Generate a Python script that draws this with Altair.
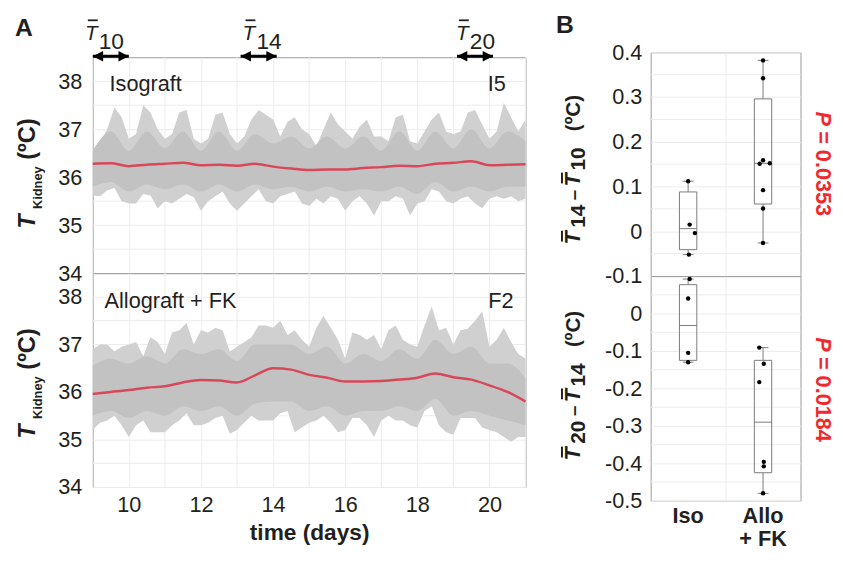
import altair as alt
import pandas as pd

FONT = "Liberation Sans"
INK = "#231f20"
RED_LINE = "#d8485b"
RED_TXT = "#ef2a2f"
GRID = "#ececec"

# ---------------- Panel A data ----------------
days_fine = [round(9 + 0.2 * i, 1) for i in range(61)]
days_half = [round(9 + 0.5 * i, 1) for i in range(25)]

iso_upper = [36.55, 36.7, 37.0, 37.45, 37.25, 36.8, 36.9, 37.5, 37.35, 37.0, 36.8, 36.9, 37.35, 37.4,
             36.8, 36.7, 36.8, 37.3, 37.35, 36.9, 36.7, 36.85, 37.2, 37.4, 37.3, 37.2, 36.85, 37.15,
             37.25, 37.0, 36.9,
             36.65, 37.0, 37.35, 37.1, 36.95, 36.8, 37.05, 37.2, 36.85, 36.85, 36.75, 37.25, 37.3,
             36.75, 36.7, 36.95, 37.2, 37.35, 36.95, 36.9, 36.95, 37.35, 37.4, 37.1, 36.8, 36.95,
             37.55, 37.25, 36.95, 37.2]
iso_lower = [35.62, 35.6, 35.72, 35.78, 35.5, 35.45, 35.45, 35.65, 35.62, 35.35, 35.5, 35.45, 35.55,
             35.65, 35.58, 35.3, 35.5, 35.6, 35.7, 35.45, 35.3, 35.45, 35.6, 35.75, 35.5, 35.45, 35.6,
             35.65, 35.7, 35.45, 35.4,
             35.55, 35.45, 35.6, 35.55, 35.3, 35.5, 35.6, 35.45, 35.2, 35.5, 35.5, 35.6, 35.55, 35.2,
             35.45, 35.5, 35.75, 35.7, 35.5, 35.45, 35.55, 35.6, 35.45, 35.35, 35.55, 35.6, 35.55,
             35.6, 35.5, 35.55]
iso_core_hi = [36.55, 36.95, 36.55, 36.95, 36.6, 36.95, 36.55, 36.95, 36.55, 36.9, 36.7, 36.85, 36.6,
               36.85, 36.6, 36.85, 36.55, 36.95, 36.55, 36.95, 36.6, 37.0, 36.6, 36.95, 36.75]
iso_core_lo = [35.8, 35.9, 35.7, 35.85, 35.75, 35.85, 35.7, 35.85, 35.7, 35.85, 35.75, 35.8, 35.7,
               35.8, 35.7, 35.75, 35.7, 35.8, 35.65, 35.9, 35.7, 35.8, 35.7, 35.8, 35.8]
iso_mean = [36.28, 36.29, 36.23, 36.26, 36.28, 36.30, 36.25, 36.26, 36.24, 36.28, 36.22, 36.18, 36.15,
            36.16, 36.16, 36.19, 36.21, 36.24, 36.23, 36.28, 36.30, 36.33, 36.25, 36.26, 36.27]

allo_upper = [36.9, 37.0, 37.0, 36.85, 36.95, 37.0, 37.05, 36.75, 37.15, 37.05, 36.8, 37.25, 37.3,
              37.45, 37.0, 37.3, 37.25, 37.35, 37.3, 36.85, 36.95, 37.05, 37.15, 37.4, 37.4, 37.35,
              37.5, 37.2, 37.3, 37.1, 36.95,
              37.35, 37.6, 37.35, 37.1, 36.7, 37.25, 37.2, 37.1, 37.2, 36.9, 37.3, 37.4, 37.1, 37.0,
              36.95, 37.4, 37.8, 37.3, 37.35, 37.0, 37.3, 37.33, 37.5, 37.7, 36.95, 37.1, 37.35,
              37.05, 36.8, 36.7]
allo_lower = [35.2, 35.35, 35.4, 35.5, 35.3, 35.05, 35.3, 35.4, 35.15, 35.15, 35.15, 35.3, 35.4,
              35.55, 35.3, 35.3, 35.35, 35.45, 35.5, 35.12, 35.2, 35.35, 35.5, 35.4, 35.4, 35.4,
              35.55, 35.6, 35.15, 35.25, 35.35,
              35.4, 35.5, 35.35, 35.15, 35.2, 35.45, 35.45, 35.3, 35.05, 35.4, 35.5, 35.4, 35.4,
              35.3, 35.25, 35.6, 35.7, 35.3, 35.15, 35.1, 35.45, 35.45, 35.45, 35.25, 35.2, 35.15,
              35.05, 34.95, 35.05, 35.05]
allo_core_hi = [36.55, 36.7, 36.6, 36.75, 36.6, 36.9, 36.8, 36.9, 36.65, 37.0, 37.0, 37.0, 36.8,
                36.95, 36.6, 36.8, 36.65, 36.9, 36.7, 37.1, 36.8, 36.95, 36.6, 36.6, 36.3]
allo_core_lo = [35.5, 35.6, 35.45, 35.6, 35.5, 35.7, 35.6, 35.7, 35.5, 35.75, 35.8, 35.8, 35.6,
                35.7, 35.5, 35.6, 35.6, 35.7, 35.6, 35.85, 35.5, 35.6, 35.5, 35.4, 35.3]
allo_mean = [35.96, 36.0, 36.04, 36.09, 36.12, 36.2, 36.25, 36.24, 36.2, 36.35, 36.5, 36.47, 36.36,
             36.3, 36.22, 36.22, 36.23, 36.26, 36.3, 36.39, 36.31, 36.26, 36.14, 36.0, 35.8]

a_y_ticks = [34, 35, 36, 37, 38]
a_y_minor = [34.5, 35.5, 36.5, 37.5]
a_x_ticks = [10, 12, 14, 16, 18, 20]
a_x_minor = [9, 11, 13, 15, 17, 19, 21]

arrow_start = [9.0, 13.1, 19.1]
arrow_end = [10.0, 14.1, 20.1]
arrow_sub = ["10", "14", "20"]
arrow_label_dx = [-8, 2, -1]

# ---------------- Panel B data ----------------
group_pos = [1, 2]
group_names = ["Iso", "Allo\n+ FK"]

b1_lower = [-0.052, -0.026]
b1_q1 = [-0.041, 0.061]
b1_med = [0.006, 0.152]
b1_q3 = [0.088, 0.296]
b1_upper = [0.112, 0.382]
b1_pts_group = [1, 1, 1, 1, 2, 2, 2, 2, 2, 2, 2, 2]
b1_pts_val = [0.112, 0.015, -0.004, -0.052, 0.382, 0.342, 0.159, 0.151, 0.152, 0.092, 0.051, -0.026]
b1_pts_jit = [0.0, 0.02, 0.09, 0.01, 0.0, 0.0, 0.0, -0.045, 0.09, 0.0, 0.0, 0.0]
b1_ticks = [-0.1, 0, 0.1, 0.2, 0.3, 0.4]
b1_minor = [-0.05, 0.05, 0.15, 0.25, 0.35]

b2_lower = [-0.13, -0.48]
b2_q1 = [-0.125, -0.425]
b2_med = [-0.032, -0.29]
b2_q3 = [0.077, -0.125]
b2_upper = [0.092, -0.091]
b2_pts_group = [1, 1, 1, 1, 2, 2, 2, 2, 2, 2]
b2_pts_val = [0.092, 0.04, -0.105, -0.13, -0.091, -0.134, -0.183, -0.396, -0.408, -0.48]
b2_pts_jit = [0.02, 0.0, 0.0, 0.0, -0.05, 0.01, -0.05, 0.01, 0.01, 0.0]
b2_ticks = [-0.5, -0.4, -0.3, -0.2, -0.1, 0]
b2_minor = [-0.45, -0.35, -0.25, -0.15, -0.05, 0.05]

p_values = ["0.0353", "0.0184"]

# ---------------- helpers ----------------
def label(text, x, y, size, weight="normal", style="normal", angle=0, align="left",
          baseline="alphabetic", color=INK, font=FONT):
    return alt.Chart(pd.DataFrame({"t": [text]})).mark_text(
        font=font, fontSize=size, fontWeight=weight, fontStyle=style, angle=angle,
        align=align, baseline=baseline, color=color
    ).encode(x=alt.value(x), y=alt.value(y), text="t:N")


def bar(x1, y1, x2, y2, width=2):
    return alt.Chart(pd.DataFrame({"a": [0]})).mark_rule(color=INK, strokeWidth=width).encode(
        x=alt.value(x1), y=alt.value(y1), x2=alt.value(x2), y2=alt.value(y2))


def grid_y(vals, scale, axis):
    return alt.Chart(pd.DataFrame({"g": vals})).mark_rule(color=GRID, strokeWidth=1).encode(
        y=alt.Y("g:Q", scale=scale, axis=axis))


def grid_x(vals, scale, axis):
    return alt.Chart(pd.DataFrame({"g": vals})).mark_rule(color=GRID, strokeWidth=1).encode(
        x=alt.X("g:Q", scale=scale, axis=axis))


A_W = 439
XS = alt.Scale(domain=[9, 21], nice=False, zero=False)
YS_A = alt.Scale(domain=[34, 38.5], nice=False, zero=False)


def a_panel(up, lo, chi, clo, mean, bottom):
    if bottom:
        xaxis = alt.Axis(values=a_x_ticks, format="d",
                         labelFontSize=22, labelPadding=8, labelColor=INK, labelFlush=False,
                         labelOverlap=False,
                         title="time (days)", titleFontSize=23, titleFontWeight="bold",
                         titleColor=INK, titlePadding=6, grid=True)
    else:
        xaxis = alt.Axis(values=a_x_ticks, labels=False, title=None, grid=True)
    yaxis = alt.Axis(values=a_y_ticks, format="d",
                     labelFontSize=22, labelPadding=11, labelColor=INK, labelOverlap=False,
                     title=None, grid=True)
    df_o = pd.DataFrame({"day": days_fine, "lo": lo, "hi": up})
    df_c = pd.DataFrame({"day": days_half, "lo": clo, "hi": chi})
    df_m = pd.DataFrame({"day": days_half, "t": mean})
    outer = alt.Chart(df_o).mark_area(color="#d0d0d0").encode(
        x=alt.X("day:Q", scale=XS, axis=xaxis),
        y=alt.Y("lo:Q", scale=YS_A, axis=yaxis), y2="hi:Q")
    core = alt.Chart(df_c).mark_area(color="#c2c2c2", interpolate="monotone").encode(
        x="day:Q", y="lo:Q", y2="hi:Q")
    line = alt.Chart(df_m).mark_line(color=RED_LINE, strokeWidth=2.5, interpolate="monotone").encode(
        x="day:Q", y="t:Q")
    return [grid_y(a_y_minor, YS_A, yaxis), grid_x(a_x_minor, XS, xaxis), outer, core, line]


def y_title_a(tbase, kbase, cbase):
    return [
        label("T", -59, tbase, 24, weight="bold", style="italic", angle=270),
        label("Kidney", -51, kbase, 13, weight="bold", angle=270),
        label("(ºC)", -59, cbase, 24, weight="bold", angle=270),
    ]


# ---- A top ----
a_top_layers = a_panel(iso_upper, iso_lower, iso_core_hi, iso_core_lo, iso_mean, False)
df_arr = pd.DataFrame({"s": arrow_start, "e": arrow_end})
a_top_layers.append(alt.Chart(df_arr).mark_rule(color="black", strokeWidth=3).encode(
    x="s:Q", x2="e:Q", y=alt.value(-1)))
a_top_layers.append(alt.Chart(df_arr).mark_point(
    shape="M0,0 L2,-1 L2,1 Z", filled=True, size=110, color="black", opacity=1).encode(
    x="s:Q", y=alt.value(-1)))
a_top_layers.append(alt.Chart(df_arr).mark_point(
    shape="M0,0 L-2,-1 L-2,1 Z", filled=True, size=110, color="black", opacity=1).encode(
    x="e:Q", y=alt.value(-1)))
for s, sub, dx in zip(arrow_start, arrow_sub, arrow_label_dx):
    d = pd.DataFrame({"x": [s], "T": ["T"], "sub": [sub]})
    a_top_layers.append(alt.Chart(d).mark_text(
        font=FONT, fontSize=21, fontStyle="italic", align="left", baseline="alphabetic",
        color=INK, dx=dx).encode(x="x:Q", y=alt.value(-17), text="T:N"))
    a_top_layers.append(alt.Chart(d).mark_rule(
        color=INK, strokeWidth=1.8, xOffset=dx + 3, x2Offset=dx + 13).encode(
        x="x:Q", x2="x:Q", y=alt.value(-37.5)))
    a_top_layers.append(alt.Chart(d).mark_text(
        font=FONT, fontSize=23, align="left", baseline="alphabetic",
        color=INK, dx=dx + 14).encode(x="x:Q", y=alt.value(-8), text="sub:N"))
a_top_layers += [
    label("Isograft", 17, 34, 22),
    label("I5", 419, 34, 22, align="right"),
    label("A", -79, -22, 25, weight="bold"),
]
a_top_layers += y_title_a(174, 154, 104)
a_top = alt.layer(*a_top_layers).properties(width=A_W, height=219)

# ---- A bottom ----
a_bot_layers = a_panel(allo_upper, allo_lower, allo_core_hi, allo_core_lo, allo_mean, True)
a_bot_layers += [
    label("Allograft + FK", 12, 35, 22),
    label("F2", 427, 35, 22, align="right"),
]
a_bot_layers += y_title_a(168, 148, 98)
a_bot = alt.layer(*a_bot_layers).properties(width=A_W, height=217)

spacer = alt.Chart(pd.DataFrame({"a": [0]})).mark_point(opacity=0, size=1).encode(
    x=alt.value(0), y=alt.value(0)).properties(
    width=A_W, height=5, view=alt.ViewBackground(stroke="transparent"))

a_col = alt.vconcat(spacer, a_top, a_bot, spacing=0, bounds="flush")

# ---------------- Panel B ----------------
B_W = 152
XS_B = alt.Scale(domain=[0.5, 2.5], nice=False, zero=False)
BOX_HALF = 0.116
CAP_HALF = 0.072
GRAY = "#7b7b7b"


def b_panel(lower, q1, med, q3, upper, pg, pv, pj, domain, ticks, minor):
    df_box = pd.DataFrame({"pos": group_pos, "lower": lower, "q1": q1, "med": med,
                           "q3": q3, "upper": upper})
    df_box["x0"] = df_box["pos"] - BOX_HALF
    df_box["x1"] = df_box["pos"] + BOX_HALF
    df_box["c0"] = df_box["pos"] - CAP_HALF
    df_box["c1"] = df_box["pos"] + CAP_HALF
    df_pts = pd.DataFrame({"g": pg, "v": pv, "j": pj})
    df_pts["xp"] = df_pts["g"] + df_pts["j"]
    ys = alt.Scale(domain=domain, nice=False, zero=False)
    yaxis = alt.Axis(values=ticks,
                     labelExpr="replace(format(datum.value, '.1~f'), '\u2212', '-')",
                     labelOverlap=False,
                     labelFontSize=22, labelPadding=9, labelColor=INK, title=None, grid=True)
    xaxis = alt.Axis(values=[1.5], labels=False, title=None, grid=True)
    gmin = grid_y(minor, ys, yaxis)
    box = alt.Chart(df_box).mark_rect(fillOpacity=0, stroke=GRAY, strokeWidth=1).encode(
        x=alt.X("x0:Q", scale=XS_B, axis=xaxis), x2="x1:Q",
        y=alt.Y("q1:Q", scale=ys, axis=yaxis), y2="q3:Q")
    w_up = alt.Chart(df_box).mark_rule(color=GRAY, strokeWidth=1).encode(
        x="pos:Q", y="q3:Q", y2="upper:Q")
    w_lo = alt.Chart(df_box).mark_rule(color=GRAY, strokeWidth=1).encode(
        x="pos:Q", y="lower:Q", y2="q1:Q")
    cap_up = alt.Chart(df_box).mark_rule(color=GRAY, strokeWidth=1).encode(
        x="c0:Q", x2="c1:Q", y="upper:Q")
    cap_lo = alt.Chart(df_box).mark_rule(color=GRAY, strokeWidth=1).encode(
        x="c0:Q", x2="c1:Q", y="lower:Q")
    median = alt.Chart(df_box).mark_rule(color=GRAY, strokeWidth=1).encode(
        x="x0:Q", x2="x1:Q", y="med:Q")
    pts = alt.Chart(df_pts).mark_circle(color="black", size=20, opacity=1).encode(
        x="xp:Q", y="v:Q")
    return [gmin, box, w_up, w_lo, cap_up, cap_lo, median, pts]


def y_title_b(base, sub1, sub2):
    return [
        label("T", -72, base, 22, weight="bold", style="italic", angle=270),
        bar(-90, base - 3, -90, base - 14),
        label(sub1, -67, base - 17, 21, weight="bold", angle=270),
        label("\u2013", -72, base - 45, 19, weight="bold", angle=270),
        label("T", -72, base - 59, 22, weight="bold", style="italic", angle=270),
        bar(-90, base - 62, -90, base - 73),
        label(sub2, -67, base - 75, 21, weight="bold", angle=270),
        label("(ºC)", -72, base - 115, 21, weight="bold", angle=270),
    ]


def p_text(y0, val):
    return [
        label("P", 168, y0, 22, weight="bold", style="italic", angle=90, color=RED_TXT),
        label("= " + val, 168, y0 + 20, 22, weight="bold", angle=90, color=RED_TXT),
    ]


b_top_layers = b_panel(b1_lower, b1_q1, b1_med, b1_q3, b1_upper, b1_pts_group, b1_pts_val,
                       b1_pts_jit, [-0.1, 0.4], b1_ticks, b1_minor)
b_top_layers += y_title_b(195, "14", "10")
b_top_layers += p_text(60, p_values[0])
b_top_layers.append(label("B", -96, -20, 25, weight="bold"))
b_top = alt.layer(*b_top_layers).properties(width=B_W, height=227)

b_bot_layers = b_panel(b2_lower, b2_q1, b2_med, b2_q3, b2_upper, b2_pts_group, b2_pts_val,
                       b2_pts_jit, [-0.5, 0.1], b2_ticks, b2_minor)
b_bot_layers += y_title_b(187, "20", "14")
b_bot_layers += p_text(62, p_values[1])
df_cat = pd.DataFrame({"pos": group_pos, "name": group_names})
b_bot_layers.append(alt.Chart(df_cat).mark_text(
    font=FONT, fontSize=22, fontWeight="bold", align="center", baseline="alphabetic",
    lineBreak="\n", lineHeight=24, color=INK).encode(
    x="pos:Q", y=alt.value(250), text="name:N"))
b_bot = alt.layer(*b_bot_layers).properties(width=B_W, height=228)

b_col = alt.vconcat(b_top, b_bot, spacing=0, bounds="flush")

chart = alt.hconcat(a_col, b_col, spacing=24).properties(
    padding={"left": 6, "top": 0, "right": 0, "bottom": 0}
).configure(font=FONT).configure_axis(
    domain=False, ticks=False, gridColor=GRID, gridWidth=1
).configure_view(stroke="#9a9a9a", strokeWidth=1)

chart.save("out.html", embed_options={"renderer": "svg", "actions": False})
